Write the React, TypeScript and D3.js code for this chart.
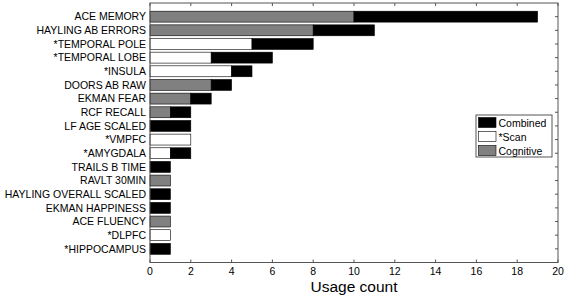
import React from "react";
import * as d3 from "d3";

const categories = [
  "ACE MEMORY",
  "HAYLING AB ERRORS",
  "*TEMPORAL POLE",
  "*TEMPORAL LOBE",
  "*INSULA",
  "DOORS AB RAW",
  "EKMAN FEAR",
  "RCF RECALL",
  "LF AGE SCALED",
  "*VMPFC",
  "*AMYGDALA",
  "TRAILS B TIME",
  "RAVLT 30MIN",
  "HAYLING OVERALL SCALED",
  "EKMAN HAPPINESS",
  "ACE FLUENCY",
  "*DLPFC",
  "*HIPPOCAMPUS",
];
// single-modality usage (Scan for * items, Cognitive otherwise)
const singleCounts = [10, 8, 5, 3, 4, 3, 2, 1, 0, 2, 1, 0, 1, 0, 0, 1, 1, 0];
// combined usage stacked after the single segment
const combinedCounts = [9, 3, 3, 3, 1, 1, 1, 1, 2, 0, 1, 1, 0, 1, 1, 0, 0, 1];
const xTicks = [0, 2, 4, 6, 8, 10, 12, 14, 16, 18, 20];
const legendLabels = ["Combined", "*Scan", "Cognitive"];
const legendColors = ["#000000", "#ffffff", "#808080"];

const W = 567;
const H = 300;
const L = 150;
const R = 558;
const T = 3;
const B = 262.5;
const FONT = "'Liberation Sans', Arial, Helvetica, sans-serif";
const AXIS = "#555555";

export default function App() {
  const x = d3.scaleLinear().domain([0, 20]).range([L, R]);
  const y = d3.scaleLinear().domain([0, 19]).range([T, B]);
  const bandH = (y(1) - y(0)) * 0.8;
  const tickLen = 3;

  return (
    <svg
      width={W}
      height={H}
      style={{ position: "absolute", left: 0, top: 0, background: "#fff" }}
      fontFamily={FONT}
    >
      <rect x={0} y={0} width={W} height={H} fill="#fff" />
      {/* ticks */}
      {xTicks.map((t) => (
        <g key={"xt" + t}>
          <line x1={x(t)} x2={x(t)} y1={B} y2={B - tickLen} stroke={AXIS} strokeWidth={1} />
          <line x1={x(t)} x2={x(t)} y1={T} y2={T + tickLen} stroke={AXIS} strokeWidth={1} />
          <text x={x(t)} y={274.5} fontSize={10.5} textAnchor="middle" fill="#000">
            {t}
          </text>
        </g>
      ))}
      {categories.map((c, i) => (
        <g key={"yt" + i}>
          <line x1={R} x2={R - tickLen} y1={y(i + 1)} y2={y(i + 1)} stroke={AXIS} strokeWidth={1} />
          <line x1={L} x2={L + tickLen} y1={y(i + 1)} y2={y(i + 1)} stroke={AXIS} strokeWidth={1} />
          <text x={L - 4} y={y(i + 1) + 3.8} fontSize={10.5} textAnchor="end" fill="#000">
            {c}
          </text>
        </g>
      ))}
      {/* bars */}
      {categories.map((c, i) => {
        const s = singleCounts[i];
        const cb = combinedCounts[i];
        const isScan = c.startsWith("*");
        const yc = y(i + 1);
        return (
          <g key={"bar" + i}>
            {s > 0 && (
              <rect
                x={x(0)}
                y={yc - bandH / 2}
                width={x(s) - x(0)}
                height={bandH}
                fill={isScan ? "#ffffff" : "#808080"}
                stroke="#000"
                strokeWidth={0.6}
              />
            )}
            {cb > 0 && (
              <rect
                x={x(s)}
                y={yc - bandH / 2}
                width={x(s + cb) - x(s)}
                height={bandH}
                fill="#000"
                stroke="#000"
                strokeWidth={0.6}
              />
            )}
          </g>
        );
      })}
      {/* box */}
      <rect x={L} y={T} width={R - L} height={B - T} fill="none" stroke={AXIS} strokeWidth={1} />
      {/* legend */}
      <rect x={476} y={115} width={76} height={42} fill="#fff" stroke={AXIS} strokeWidth={1} />
      {legendLabels.map((lab, i) => (
        <g key={"lg" + i}>
          <rect
            x={478.5}
            y={117.5 + i * 14}
            width={17.5}
            height={10}
            fill={legendColors[i]}
            stroke="#000"
            strokeWidth={0.6}
          />
          <text x={498.5} y={126.5 + i * 14} fontSize={10.5} fill="#000">
            {lab}
          </text>
        </g>
      ))}
      {/* x label */}
      <text x={(L + R) / 2} y={292} fontSize={15.5} textAnchor="middle" fill="#000">
        Usage count
      </text>
    </svg>
  );
}
